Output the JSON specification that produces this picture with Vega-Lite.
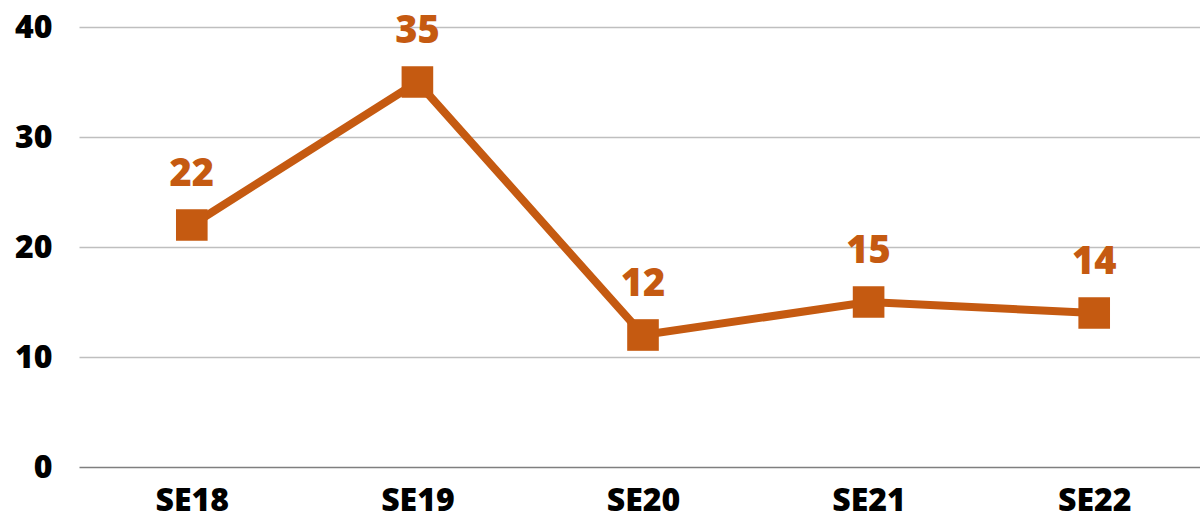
{
  "$schema": "https://vega.github.io/schema/vega-lite/v6.json",
  "autosize": "none",
  "padding": {"left": 79, "top": 27, "right": 0, "bottom": 54},
  "width": 1128,
  "height": 440,
  "background": "white",
  "config": {"view": {"stroke": null}, "font": "Open Sans"},
  "data": {"values": [
    {"cat": "SE18", "value": 22},
    {"cat": "SE19", "value": 35},
    {"cat": "SE20", "value": 12},
    {"cat": "SE21", "value": 15},
    {"cat": "SE22", "value": 14}
  ]},
  "encoding": {
    "x": {"field": "cat", "type": "ordinal", "scale": {"type": "point", "padding": 0.5},
      "axis": {"title": null, "labelAngle": 0, "domain": false, "ticks": false, "labelFontSize": 32, "labelFontWeight": 800, "labelColor": "#000000", "labelPadding": 18, "labelFont": "Open Sans"}},
    "y": {"field": "value", "type": "quantitative", "scale": {"domain": [0, 40]},
      "axis": {"title": null, "values": [0, 10, 20, 30, 40], "domain": false, "ticks": false, "labelFontSize": 32, "labelFontWeight": 800, "labelColor": "#000000", "labelPadding": 27, "labelFont": "Open Sans",
        "gridColor": {"condition": {"test": "datum.value === 0", "value": "#7f7f7f"}, "value": "#bfbfbf"}, "gridWidth": 1.3}}
  },
  "layer": [
    {"mark": {"type": "line", "color": "#C55A11", "strokeWidth": 8}},
    {"mark": {"type": "point", "shape": "square", "filled": true, "color": "#C55A11", "size": 1000, "opacity": 1}},
    {"mark": {"type": "text", "color": "#C55A11", "fontSize": 38, "fontWeight": 800, "dy": -50, "font": "Open Sans"},
      "encoding": {"text": {"field": "value", "type": "quantitative"}}}
  ]
}
